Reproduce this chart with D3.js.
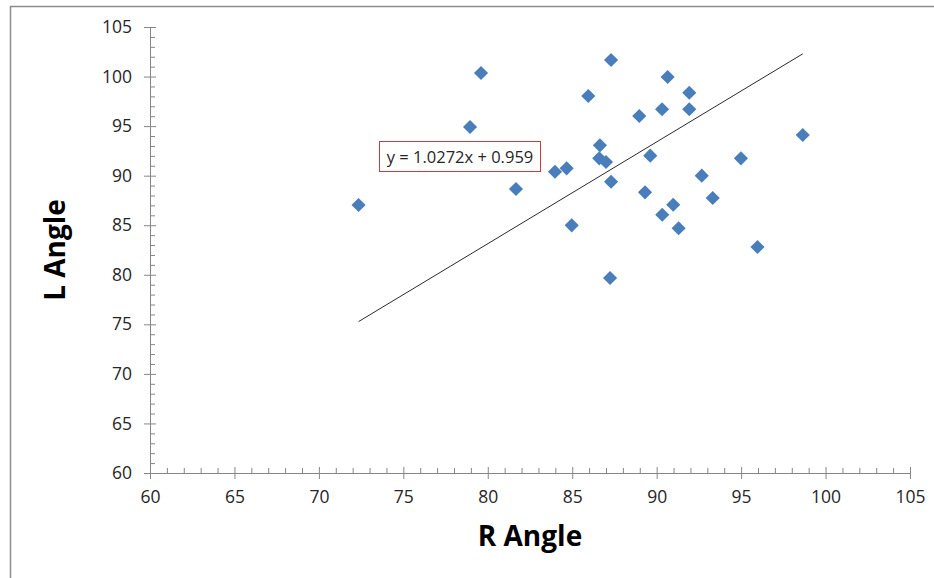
<!DOCTYPE html>
<html>
<head>
<meta charset="utf-8">
<script src="https://cdn.jsdelivr.net/npm/d3@7"></script>
<style>
  body { margin: 0; background: #fff; }
  text { font-family: "Open Sans", sans-serif; }
</style>
</head>
<body>
<div id="chart"></div>
<script>
// Data
var rAngle = [72.35, 78.95, 79.60, 81.67, 83.98, 84.67, 84.97, 85.95, 86.64, 86.60,
              87.00, 87.30, 87.30, 87.24, 88.97, 89.31, 89.62, 90.32, 90.33, 90.65,
              90.98, 91.30, 91.93, 91.93, 92.67, 93.32, 94.99, 95.97, 98.65];
var lAngle = [87.04, 94.91, 100.36, 88.65, 90.40, 90.74, 84.99, 98.04, 93.06, 91.75,
              91.38, 101.67, 89.39, 79.67, 96.02, 88.32, 92.02, 96.70, 86.06, 99.96,
              87.07, 84.69, 98.37, 96.70, 90.00, 87.75, 91.75, 82.80, 94.10];
var majorTicks = [60, 65, 70, 75, 80, 85, 90, 95, 100, 105];
var slope = 1.0272, intercept = 0.959;
var equationLabel = "y = 1.0272x + 0.959";

var data = rAngle.map(function(r, i) { return {r: r, l: lAngle[i]}; });

var W = 934, H = 578;
var margin = {top: 27, right: 24, bottom: 105, left: 150},
    width = W - margin.left - margin.right,
    height = H - margin.top - margin.bottom;

var svg = d3.select("#chart")
  .append("svg")
    .attr("width", W)
    .attr("height", H);

// Outer frame (top and left edges visible)
svg.append("path")
  .attr("d", "M10.5," + H + "V6.5H" + W)
  .attr("fill", "none")
  .attr("stroke", "#8c8c8c")
  .attr("stroke-width", 1.5);

var g = svg.append("g")
  .attr("transform", "translate(" + margin.left + "," + margin.top + ")");

var x = d3.scaleLinear().domain([60, 105]).range([0, width]);
var y = d3.scaleLinear().domain([60, 105]).range([height, 0]);

var minor = d3.range(60, 106).filter(function(v) { return v % 5 !== 0; });
var axisColor = "#868686";

// X axis: minor ticks pointing up, major ticks crossing
g.append("g")
  .attr("transform", "translate(0," + height + ")")
  .call(d3.axisBottom(x).tickValues(minor).tickSize(-5).tickFormat(""))
  .call(function(a) { a.select(".domain").remove(); });

var xAxis = g.append("g")
  .attr("transform", "translate(0," + height + ")")
  .call(d3.axisBottom(x).tickValues(majorTicks).tickSizeOuter(0).tickSize(6).tickPadding(12));
xAxis.selectAll(".tick line").attr("y1", -6);

// Y axis: minor ticks pointing right, major ticks crossing
g.append("g")
  .call(d3.axisLeft(y).tickValues(minor).tickSize(-5).tickFormat(""))
  .call(function(a) { a.select(".domain").remove(); });

var yAxis = g.append("g")
  .call(d3.axisLeft(y).tickValues(majorTicks).tickSizeOuter(0).tickSize(6).tickPadding(12));
yAxis.selectAll(".tick line").attr("x1", 6);

g.selectAll(".domain, .tick line").attr("stroke", axisColor);
g.selectAll(".tick text")
  .attr("font-family", "Open Sans, sans-serif")
  .attr("font-size", 17.5)
  .attr("fill", "#262626");

// Trendline over the data range
var xr = d3.extent(rAngle);
g.append("line")
  .attr("x1", x(xr[0]))
  .attr("y1", y(slope * xr[0] + intercept))
  .attr("x2", x(xr[1]))
  .attr("y2", y(slope * xr[1] + intercept))
  .attr("stroke", "#2b2b2b")
  .attr("stroke-width", 1);

// Diamonds
var diamond = d3.symbol().type(d3.symbolSquare).size(100);
g.append("g")
  .selectAll("path")
  .data(data)
  .enter()
  .append("path")
    .attr("d", diamond)
    .attr("transform", function(d) {
      return "translate(" + x(d.r) + "," + y(d.l) + ") rotate(45)";
    })
    .attr("fill", "#4a7ebb");

// Equation label
var eq = svg.append("g").attr("transform", "translate(379.5,141.5)");
eq.append("rect")
  .attr("width", 161)
  .attr("height", 30)
  .attr("fill", "#fff")
  .attr("stroke", "#d03a3a")
  .attr("stroke-width", 1);
eq.append("text")
  .attr("x", 80.5)
  .attr("y", 21.5)
  .attr("text-anchor", "middle")
  .attr("font-size", 16.5)
  .attr("fill", "#262626")
  .text(equationLabel);

// Axis titles
svg.append("text")
  .attr("text-anchor", "middle")
  .attr("x", 530)
  .attr("y", 546)
  .attr("font-size", 28)
  .attr("font-weight", "bold")
  .attr("fill", "#000")
  .text("R Angle");

svg.append("text")
  .attr("text-anchor", "middle")
  .attr("transform", "translate(65,250) rotate(-90)")
  .attr("font-size", 28)
  .attr("font-weight", "bold")
  .attr("fill", "#000")
  .text("L Angle");
</script>
</body>
</html>
